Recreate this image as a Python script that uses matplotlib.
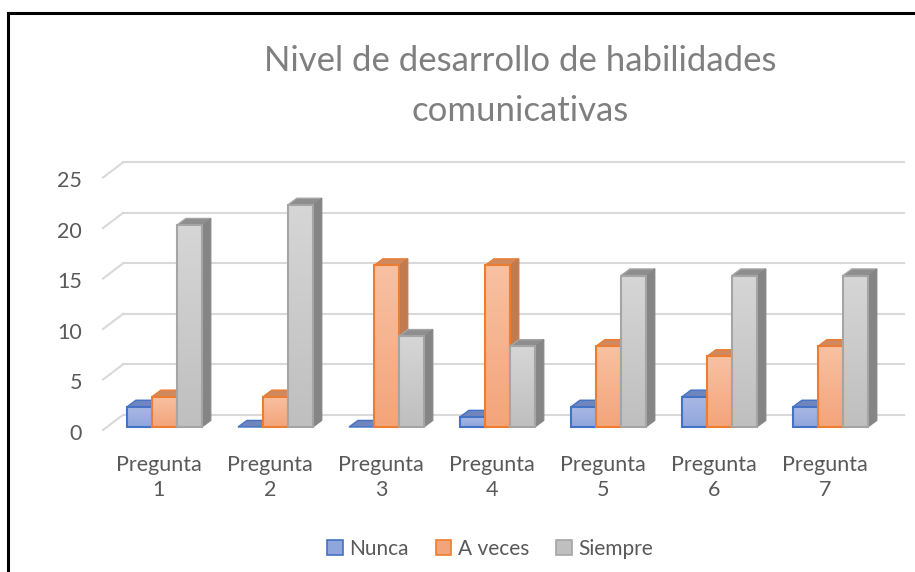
import numpy as np
import matplotlib.pyplot as plt
from matplotlib.patches import Polygon, Patch
from matplotlib.lines import Line2D
from matplotlib.colors import LinearSegmentedColormap

plt.rcParams['font.family'] = ['Lato', 'DejaVu Sans']

categories = ['Pregunta\n1', 'Pregunta\n2', 'Pregunta\n3', 'Pregunta\n4',
              'Pregunta\n5', 'Pregunta\n6', 'Pregunta\n7']
series = ['Nunca', 'A veces', 'Siempre']
nunca = [2, 0, 0, 1, 2, 3, 2]
a_veces = [3, 3, 16, 16, 8, 7, 8]
siempre = [20, 22, 9, 8, 15, 15, 15]
yticks = [0, 5, 10, 15, 20, 25]
title = 'Nivel de desarrollo de habilidades\ncomunicativas'

# colours: edge, front top, front bottom, top face, side face
styles = [
    ('#4472C4', '#aab9e4', '#8fa6dc', '#6f85bd', '#5f74aa'),
    ('#ED7D31', '#f8c1a2', '#f4a47a', '#d0895e', '#c27a4f'),
    ('#A5A5A5', '#d6d6d6', '#bfbfbf', '#8e8e8e', '#858585'),
]
text_col = '#595959'
grid_col = '#d9d9d9'

# fake 3d geometry (data units)
width = 0.225
ddx, ddy = 0.08, 0.65        # bar depth
wall_dx = 0.18                # side wall slant
wall_dy = 1.2                 # back wall lift
x_front = -0.554
x_right = 6.66

fig = plt.figure(figsize=(9.15, 5.72), dpi=100, facecolor='white')
ax = fig.add_axes([100/915, 132/572, 810/915, 290/572])
ax.set_axis_off()

# gridlines on back wall + slant on left wall
for v in yticks:
    ax.plot([x_front + wall_dx, x_right], [v + wall_dy, v + wall_dy], color=grid_col,
            lw=1.5, zorder=1)
    ax.plot([x_front, x_front + wall_dx], [v - 0.3, v + wall_dy], color=grid_col,
            lw=1.5, zorder=1)
    ax.text(x_front - 0.19, v - 0.65, str(v), ha='right', va='center',
            fontsize=15.5, color=text_col)

x = np.arange(len(categories))
grad = np.linspace(0, 1, 64)[:, None]
for k, vals in enumerate([nunca, a_veces, siempre]):
    edge, ftop, fbot, tcol, scol = styles[k]
    z = 2 + k
    cmap = LinearSegmentedColormap.from_list('g%d' % k, [fbot, ftop])
    bars = ax.bar(x + (k - 1) * width, vals, width, color=fbot, edgecolor=edge,
                  lw=1.5, zorder=z + 0.2)
    for b, h in zip(bars, vals):
        x0 = b.get_x()
        # top face
        ax.add_patch(Polygon([(x0, h), (x0 + width, h), (x0 + width + ddx, h + ddy),
                              (x0 + ddx, h + ddy)], closed=True, facecolor=tcol,
                             edgecolor=edge, lw=1, zorder=z))
        if h > 0:
            # side face
            ax.add_patch(Polygon([(x0 + width, 0), (x0 + width + ddx, ddy),
                                  (x0 + width + ddx, h + ddy), (x0 + width, h)],
                                 closed=True, facecolor=scol, edgecolor=scol,
                                 lw=0.8, zorder=z))
            b.set_facecolor('none')
            ax.imshow(grad, extent=(x0, x0 + width, 0, h), origin='lower',
                      cmap=cmap, aspect='auto', zorder=z + 0.1)
        else:
            b.set_visible(False)

for i, c in enumerate(categories):
    ax.text(i - 0.05, -2.75, c, ha='center', va='top', fontsize=15.5,
            color=text_col, linespacing=1.3)

ax.set_xlim(-0.581, 6.716)
ax.set_ylim(-1.287, 27.43)

fig.text(520/915, 1 - 86/572, title, ha='center', va='center', fontsize=25,
         color='#7f7f7f', linespacing=1.7)

handles = [Patch(facecolor=s[2], edgecolor=s[0], lw=1.2) for s in styles]
fig.legend(handles, series, loc='center', bbox_to_anchor=(490/915, 1 - 549/572),
           ncol=3, frameon=False, fontsize=15, handlelength=0.75, handleheight=0.75,
           handletextpad=0.3, columnspacing=1.3, labelcolor=text_col)

# chart frame (left and top edge visible)
fig.add_artist(Line2D([8/915, 8/915], [0, 1 - 13/572], color='black', lw=2.2,
                      transform=fig.transFigure))
fig.add_artist(Line2D([8/915, 1], [1 - 13/572, 1 - 13/572], color='black', lw=2.2,
                      transform=fig.transFigure))

fig.savefig('out.png', dpi=100)
